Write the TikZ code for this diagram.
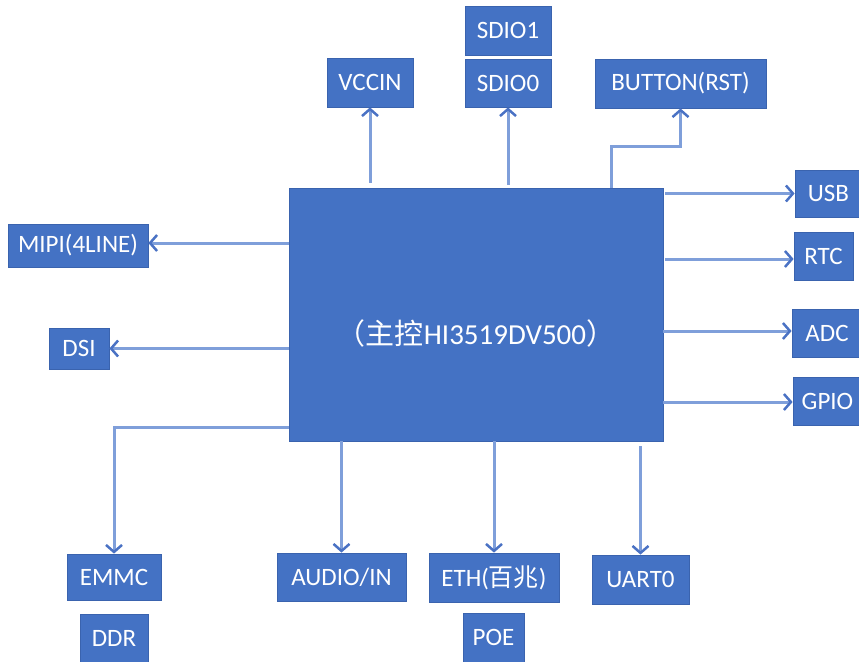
\documentclass[tikz,border=0pt]{standalone}
\usepackage{fontspec}
\setmainfont{Carlito}
\newfontfamily\cjk{Noto Sans CJK SC}
\usetikzlibrary{arrows.meta}
\definecolor{boxblue}{HTML}{4472C4}
\definecolor{boxedge}{HTML}{3A63AE}
\definecolor{linkblue}{HTML}{7F9FDA}
\definecolor{tipblue}{HTML}{4A72C4}
\tikzset{
  blk/.style={draw=boxedge, line width=0.8pt, fill=boxblue, text=white, inner sep=0pt,
    font=\fontsize{25}{30}\selectfont},
  link/.style={draw=linkblue, line width=3pt,
    -{Straight Barb[length=7pt,width=16pt,line width=2.5pt,color=tipblue]}}
}
\newcommand{\bx}[6]{\node[blk, minimum width=#4-#2, minimum height=#5-#3] (#1) at ({(#2+#4)/2},{(#3+#5)/2}) {#6};}
\begin{document}
\begin{tikzpicture}[x=1pt,y=-1pt]
\useasboundingbox (0,0) rectangle (859,661);
% main
\bx{main}{289}{188}{663}{441}{}
\node[text=white, font=\fontsize{29}{35}\selectfont] (maintext) at (476,333) {{\cjk （主控}HI3519DV500{\cjk ）}};
% top
\bx{vccin}{327}{58}{413}{107}{VCCIN}
\bx{sdioa}{465}{6}{551}{55}{SDIO1}
\bx{sdiob}{465}{59}{551}{107}{SDIO0}
\bx{button}{595}{59}{766}{108}{BUTTON(RST)}
% left
\bx{mipi}{8}{224}{148}{267}{MIPI(4LINE)}
\bx{dsi}{49}{328}{109}{369}{DSI}
% right
\bx{usb}{795}{170}{862}{217}{USB}
\bx{rtc}{794}{232}{853}{280}{RTC}
\bx{adc}{792}{309}{862}{357}{ADC}
\bx{gpio}{793}{377}{862}{425}{GPIO}
% bottom
\bx{emmc}{67}{554}{161}{600}{EMMC}
\bx{ddr}{80}{614}{148}{662}{DDR}
\bx{audio}{277}{553}{406}{601}{AUDIO/IN}
\bx{eth}{429}{553}{559}{602}{ETH({\cjk 百兆})}
\bx{poe}{463}{613}{524}{662}{POE}
\bx{uart}{592}{555}{689}{604}{UART0}
% connectors
\draw[link] ([yshift=5pt]main.north -| vccin.south) -- (vccin.south);
\draw[link] ([yshift=3pt]main.north -| sdiob.south) -- (sdiob.south);
\coordinate (bstart) at (611,188);
\draw[link] (bstart) -- (611,146) -| (button.south);
\draw[link] (main.west |- 0,243) -- (mipi.east |- 0,243);
\draw[link] (main.west |- dsi.east) -- (dsi.east);
\draw[link] ([xshift=2pt]main.east |- usb.west) -- (usb.west);
\draw[link] ([xshift=2pt]main.east |- 0,259) -- (rtc.west |- 0,259);
\draw[link] (main.east |- 0,331) -- (adc.west |- 0,331);
\draw[link] (main.east |- 0,402) -- (gpio.west |- 0,402);
\draw[link] (main.west |- 0,427) -| (emmc.north);
\draw[link] (main.south -| audio.north) -- (audio.north);
\draw[link] (main.south -| eth.north) -- (eth.north);
\draw[link] ([yshift=-5pt]main.south -| uart.north) -- (uart.north);
\end{tikzpicture}
\end{document}
